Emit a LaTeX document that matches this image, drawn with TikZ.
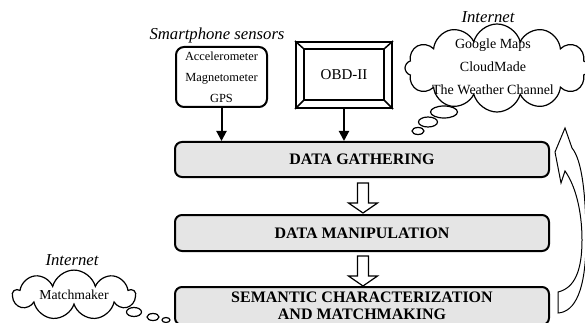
\documentclass[tikz,border=0pt]{standalone}
\usepackage{fontspec}
\setmainfont{Liberation Serif}
\usetikzlibrary{calc,shapes.symbols,shapes.geometric,arrows.meta}

\tikzset{
	stage/.style={draw, line width=2pt, rounded corners=7pt, fill=gray!20,
		minimum width=374pt, align=center,
		font=\fontsize{16}{18}\selectfont\bfseries},
	source/.style={draw, line width=2pt, fill=white, align=center},
	feed/.style={line width=2pt, -{Triangle[width=10pt,length=10pt]}},
	web/.style={cloud, draw, line width=1.2pt, fill=white, cloud ignores aspect, align=center},
	bubble/.style={ellipse, draw, line width=1.2pt, fill=white, inner sep=0pt},
	place/.style={font=\fontsize{16.7}{18}\selectfont\itshape},
	hollowdown/.pic={
		\draw[line width=1.2pt, fill=white] (-5.5,0) -- (5.5,0) -- (5.5,20) -- (14.5,20)
			-- (0,30) -- (-14.5,20) -- (-5.5,20) -- cycle;
	}
}

\begin{document}
\begin{tikzpicture}[x=1pt, y=-1pt]
	\useasboundingbox (0,0) rectangle (585,323);
	\clip (0,0) rectangle (585,323);
	
	% processing stages
	\node[stage, minimum height=35pt] (gather) at (362,159.5) {DATA GATHERING};
	\node[stage, minimum height=36pt] (manip) at (362,233) {DATA MANIPULATION};
	\node[stage, minimum height=38pt, font=\fontsize{16}{17}\selectfont\bfseries] (match) at (362,306)
		{SEMANTIC CHARACTERIZATION\\[-0.5pt]AND MATCHMAKING};
	
	\pic at ($(gather.south)+(1,5)$) {hollowdown};
	\pic at ($(manip.south)+(1,4)$) {hollowdown};
	
	% data sources
	\node[source, rounded corners=8pt, minimum width=91pt, minimum height=60pt,
		font=\fontsize{12.4}{21}\selectfont] (sensors) at (221.5,77)
		{Accelerometer\\Magnetometer\\GPS};
	\node[place] (phone) at (217,35) {Smartphone sensors};
	
	\node[source, minimum width=96pt, minimum height=66pt,
		font=\fontsize{15}{17}\selectfont] (obd) at (344,75) {OBD-II};
	\draw[line width=2pt] ($(obd.north west)+(9,8)$) rectangle ($(obd.south east)+(-9,-9)$);
	\draw[line width=1.5pt] (obd.north west) -- ++(9,8);
	\draw[line width=1.5pt] (obd.north east) -- ++(-9,8);
	\draw[line width=1.5pt] (obd.south west) -- ++(9,-9);
	\draw[line width=1.5pt] (obd.south east) -- ++(-9,-9);
	
	\draw[feed] (sensors.south) -- (sensors.south |- gather.north);
	\draw[feed] (obd.south) -- (obd.south |- gather.north);
	
	% web services
	\node[web, cloud puffs=12, inner sep=0pt, minimum width=184pt, minimum height=88pt] (maps) at (497,68) {};
	\node[align=center, font=\fontsize{14}{23}\selectfont] (mapstext) at (493,67)
		{Google Maps\\CloudMade\\The Weather Channel};
	\node[place] (net1) at (488,17) {Internet};
	\node[bubble, minimum width=27pt, minimum height=12pt] (b1) at (444,112) {};
	\node[bubble, minimum width=19pt, minimum height=10pt] (b2) at (428,122) {};
	\node[bubble, minimum width=12pt, minimum height=7pt] (b3) at (418,131) {};
	
	\node[web, cloud puffs=9, minimum width=122pt, minimum height=46pt,
		font=\fontsize{13.7}{16}\selectfont] (mm) at (74,295) {Matchmaker};
	\node[place] (net2) at (72,260) {Internet};
	\node[bubble, minimum width=15pt, minimum height=9pt] (b4) at (134,312) {};
	\node[bubble, minimum width=12pt, minimum height=7pt] (b5) at (153,317) {};
	\node[bubble, minimum width=8pt, minimum height=5pt] (b6) at (166,320) {};
	
	% feedback loop
	\draw[line width=1pt, fill=white] (558,313) .. controls (575,312) and (586,290) .. (586,240)
		.. controls (586,195) and (582,160) .. (572,148) -- (565,128) -- (555,152) -- (561,183)
		-- (565,171) .. controls (575,185) and (582,210) .. (582,240)
		.. controls (582,270) and (575,288) .. (558,292) -- cycle;
\end{tikzpicture}
\end{document}
